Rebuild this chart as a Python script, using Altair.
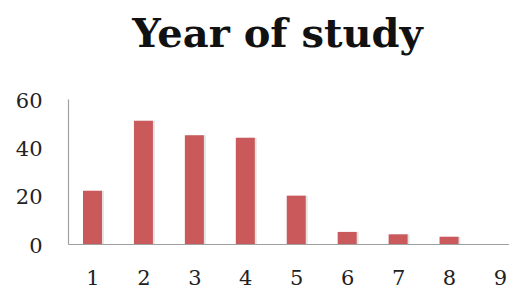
import altair as alt
import pandas as pd

years = [1, 2, 3, 4, 5, 6, 7, 8, 9]
counts = [22, 51, 45, 44, 20, 5, 4, 3, 0]
y_ticks = [0, 20, 40, 60]

df = pd.DataFrame({"year": years, "count": counts})

x_enc = alt.X(
    "year:Q",
    scale=alt.Scale(domain=[0.519, 9.177], nice=False, zero=False, padding=0),
    axis=alt.Axis(
        values=years, title=None, grid=False, ticks=False, tickSize=0,
        labelFont="DejaVu Serif", labelFontSize=21, labelColor="#222222",
        labelBaseline="alphabetic", labelPadding=40,
        domainColor="#a0a0a0", domainWidth=1.2, labelFlush=False,
    ),
)
y_enc = alt.Y(
    "count:Q",
    scale=alt.Scale(domain=[0, 60], nice=False, padding=0),
    axis=alt.Axis(
        values=y_ticks, title=None, grid=False, ticks=False, tickSize=0,
        labelFont="DejaVu Serif", labelFontSize=21, labelColor="#222222",
        labelPadding=26, labelOffset=2,
        domainColor="#a0a0a0", domainWidth=1.2,
    ),
)

shadow = alt.Chart(df).mark_bar(size=19, xOffset=2, color="#e4e4e4").encode(x=x_enc, y=y_enc)
bars = alt.Chart(df).mark_bar(size=19, color="#C9595A").encode(x=x_enc, y=y_enc)

chart = (
    alt.layer(shadow, bars)
    .properties(
        width=441,
        height=145,
        autosize=alt.AutoSizeParams(type="none"),
        padding={"left": 60, "top": 91, "right": 0, "bottom": 47},
        title=alt.TitleParams(
            "Year of study", font="DejaVu Serif", fontSize=40, fontWeight="bold",
            color="#111111", anchor="middle", baseline="bottom", offset=30, dx=-11, dy=35,
        ),
        background="white",
    )
    .configure_view(stroke=None)
)

chart.save("out.html", embed_options={"renderer": "svg", "actions": False})
